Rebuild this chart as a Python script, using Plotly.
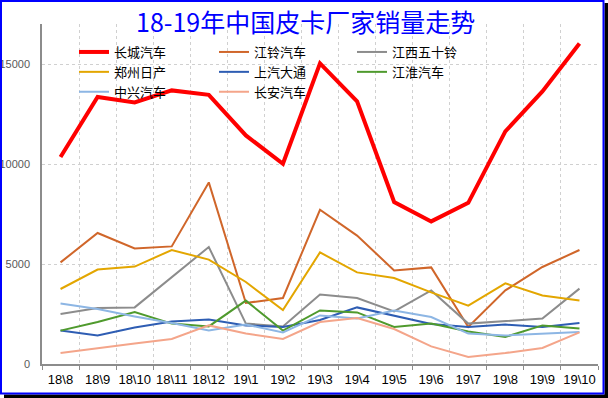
import plotly.graph_objects as go

categories = ["18\\8", "18\\9", "18\\10", "18\\11", "18\\12", "19\\1", "19\\2", "19\\3",
              "19\\4", "19\\5", "19\\6", "19\\7", "19\\8", "19\\9", "19\\10"]

changcheng = [10350, 13350, 13080, 13680, 13460, 11430, 10010, 15030, 13130, 8100, 7130, 8060, 11630, 13630, 16020]
jiangling = [5080, 6550, 5780, 5880, 9080, 3050, 3300, 7710, 6420, 4680, 4830, 1850, 3680, 4850, 5700]
jiangxi_isuzu = [2500, 2800, 2830, 4330, 5850, 2020, 1880, 3470, 3300, 2630, 3680, 2020, 2130, 2270, 3770]
zhengzhou_nissan = [3750, 4720, 4870, 5700, 5220, 4100, 2700, 5580, 4580, 4300, 3580, 2920, 4030, 3430, 3170]
saic_maxus = [1670, 1430, 1830, 2130, 2220, 1930, 1850, 2200, 2830, 2430, 2000, 1850, 1970, 1850, 2050]
jianghuai = [1670, 2100, 2600, 2020, 1880, 3170, 1670, 2680, 2580, 1850, 2020, 1630, 1350, 1930, 1770]
zhongxing = [3020, 2750, 2380, 2050, 1680, 1970, 1580, 2430, 2270, 2670, 2350, 1520, 1430, 1530, 1600]
changan = [550, 800, 1020, 1250, 1930, 1520, 1250, 2100, 2300, 1750, 880, 350, 550, 800, 1580]

series = [
    ("长城汽车", changcheng, "#FF0000", 4, "legend"),
    ("江铃汽车", jiangling, "#D0662A", 2, "legend2"),
    ("江西五十铃", jiangxi_isuzu, "#8C8C8C", 2, "legend3"),
    ("郑州日产", zhengzhou_nissan, "#E3A600", 2, "legend"),
    ("上汽大通", saic_maxus, "#2E5DB3", 2, "legend2"),
    ("江淮汽车", jianghuai, "#4F9A2D", 2, "legend3"),
    ("中兴汽车", zhongxing, "#8DB6E4", 2, "legend"),
    ("长安汽车", changan, "#F4A58A", 2, "legend2"),
]

W, H = 608, 398
ML, MR, MT, MB = 42, 10, 24, 34
PW = W - ML - MR
PH = H - MT - MB


def px_x(px):
    return (px - ML) / PW


def px_y(py):
    return (H - MB - py) / PH


fig = go.Figure()
for name, vals, color, width, leg in series:
    fig.add_trace(go.Scatter(x=categories, y=vals, name=name, mode="lines",
                             line=dict(color=color, width=width), legend=leg))

font_cjk = "Noto Sans CJK SC"
leg_common = dict(font=dict(family=font_cjk, size=13, color="#000000"),
                  bgcolor="rgba(0,0,0,0)", borderwidth=0, orientation="v",
                  xanchor="left", yanchor="top", tracegroupgap=0)

fig.update_layout(
    width=W, height=H,
    margin=dict(l=ML, r=MR, t=MT, b=MB, autoexpand=False),
    paper_bgcolor="white", plot_bgcolor="white",
    legend=dict(x=px_x(74), y=px_y(37), **leg_common),
    legend2=dict(x=px_x(214), y=px_y(37), **leg_common),
    legend3=dict(x=px_x(352), y=px_y(37), **leg_common),
    xaxis=dict(
        type="category", showline=True, linecolor="#8C8C8C", linewidth=1.5,
        ticks="outside", ticklen=4, tickcolor="#8C8C8C", tickson="boundaries",
        showgrid=True, gridcolor="#D0D0D0", griddash="dot", gridwidth=1,
        tickfont=dict(family="Liberation Sans", size=13, color="#000000"),
        range=[-0.5, len(categories) - 0.5], tickangle=0, automargin=False,
        ticklabelstandoff=3,
    ),
    yaxis=dict(
        range=[0, 17000], tickvals=[0, 5000, 10000, 15000],
        showline=True, linecolor="#8C8C8C", linewidth=1.5, ticks="",
        showgrid=True, gridcolor="#D0D0D0", griddash="dot", gridwidth=1,
        zeroline=False, ticklabelstandoff=8, automargin=False,
        tickfont=dict(family="Liberation Sans", size=11, color="#595959"),
        tickformat="d",
    ),
    annotations=[dict(
        text="18-19年中国皮卡厂家销量走势", xref="paper", yref="paper",
        x=px_x(305), y=px_y(21), xanchor="center", yanchor="middle",
        showarrow=False,
        font=dict(family=font_cjk, size=25, color="#0000FF"),
    )],
    shapes=[
        # drop shadow (right and bottom)
        dict(type="rect", xref="paper", yref="paper", layer="above",
             x0=px_x(604.5), x1=px_x(608), y0=px_y(3), y1=px_y(398),
             fillcolor="#000000", line=dict(width=0)),
        dict(type="rect", xref="paper", yref="paper", layer="above",
             x0=px_x(4), x1=px_x(608), y0=px_y(394.5), y1=px_y(398),
             fillcolor="#000000", line=dict(width=0)),
        # blue frame
        dict(type="rect", xref="paper", yref="paper", layer="above",
             x0=px_x(1), x1=px_x(603.5), y0=px_y(393.5), y1=px_y(1),
             line=dict(color="#0000FF", width=2)),
    ],
)

fig.write_html("out.html", config={"displayModeBar": False},
               post_script="document.body.style.margin='0';document.body.style.overflow='hidden';")
